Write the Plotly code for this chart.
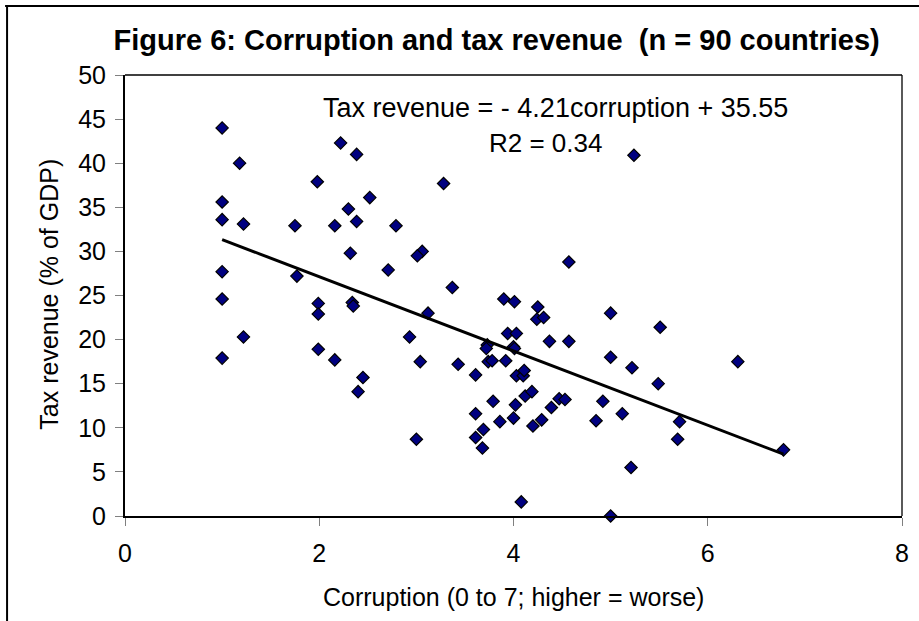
import plotly.graph_objects as go

# Data
corruption = [1.0, 1.18, 2.22, 2.385, 1.98, 1.0, 2.52, 2.30, 1.0, 1.22, 1.75, 2.16, 2.385, 2.79,
              2.32, 2.71, 1.0, 1.77, 1.0, 1.99, 1.99, 2.34, 2.35, 1.22, 1.0, 1.99, 2.16, 2.45, 2.40,
              5.24, 3.28, 3.06, 3.01, 4.57, 3.37, 3.90, 4.01, 4.25, 4.24, 4.31, 5.0, 3.12, 2.93,
              3.94, 4.03, 4.37, 4.57, 3.73, 3.72, 4.0, 4.01, 3.04, 3.43, 3.74, 3.78, 3.92, 3.61,
              4.03, 4.10, 4.11, 5.0, 5.22, 4.12, 4.19, 3.79, 4.02, 3.61, 3.86, 4.0, 4.39, 4.47,
              4.53, 4.20, 4.29, 3.69, 3.61, 3.68, 3.0, 4.92, 4.85, 5.12, 4.08, 5.0, 5.21, 5.51,
              6.31, 5.49, 5.71, 5.69, 6.78]
tax_revenue = [44.0, 40.0, 42.3, 41.0, 37.9, 35.6, 36.1, 34.8, 33.6, 33.1, 32.9, 32.9, 33.4, 32.9,
               29.8, 27.9, 27.7, 27.2, 24.6, 24.1, 22.9, 24.2, 23.8, 20.3, 17.9, 18.9, 17.7, 15.7, 14.1,
               40.9, 37.7, 30.0, 29.5, 28.8, 25.9, 24.6, 24.3, 23.7, 22.3, 22.5, 23.0, 23.0, 20.3,
               20.7, 20.7, 19.8, 19.8, 19.4, 19.0, 19.2, 19.0, 17.5, 17.2, 17.5, 17.6, 17.6, 16.0,
               15.9, 15.9, 16.5, 18.0, 16.8, 13.6, 14.1, 13.0, 12.6, 11.6, 10.7, 11.1, 12.3, 13.3,
               13.2, 10.2, 10.9, 9.8, 8.9, 7.7, 8.7, 13.0, 10.8, 11.6, 1.6, 0.0, 5.5, 21.4,
               17.5, 15.0, 10.7, 8.7, 7.5]
slope = -4.21
intercept = 35.55

x_ticks = [0, 2, 4, 6, 8]
y_ticks = [0, 5, 10, 15, 20, 25, 30, 35, 40, 45, 50]

title_text = "Figure 6: Corruption and tax revenue  (n = 90 countries)"
eq_text = "Tax revenue = - 4.21corruption + 35.55"
r2_text = "R2 = 0.34"
x_title = "Corruption (0 to 7; higher = worse)"
y_title = "Tax revenue (% of GDP)"

FONT = "Liberation Sans, Arial, sans-serif"
W, H = 919, 621
L, R, T, B = 125, 10, 75, 105
PW, PH = W - L - R, H - T - B


def px(x):
    return (x - L) / PW


def py(y):
    return (H - B - y) / PH


fig = go.Figure()
fig.add_trace(go.Scatter(
    x=corruption, y=tax_revenue, mode="markers",
    marker=dict(symbol="diamond", size=9.5, color="#000080",
                line=dict(color="black", width=1.2)),
    showlegend=False, cliponaxis=False))

x_min, x_max = min(corruption), max(corruption)
fig.add_trace(go.Scatter(
    x=[x_min, x_max], y=[intercept + slope * x_min, intercept + slope * x_max],
    mode="lines", line=dict(color="black", width=3), showlegend=False))

axis_common = dict(ticks="outside", ticklen=8, tickwidth=1, tickcolor="#808080",
                   showline=True, linecolor="black", linewidth=2,
                   showgrid=False, zeroline=False,
                   tickfont=dict(family=FONT, size=25, color="black"))

fig.update_layout(
    width=W, height=H,
    margin=dict(l=L, r=R, t=T, b=B),
    paper_bgcolor="white", plot_bgcolor="white",
    font=dict(family=FONT, size=25, color="black"),
    title=dict(text="<b>" + title_text + "</b>", xref="paper", x=px(500), xanchor="center",
               yref="container", y=1 - 40 / H, yanchor="middle",
               font=dict(family=FONT, size=29, color="black")),
    xaxis=dict(range=[0, 8], tickvals=x_ticks, ticklabelstandoff=6, **axis_common),
    yaxis=dict(range=[0, 50], tickvals=y_ticks, ticklabelstandoff=4, **axis_common),
    annotations=[
        dict(text=eq_text, x=px(559), y=py(108), xref="paper", yref="paper",
             showarrow=False, xanchor="center", yanchor="middle", font=dict(size=27)),
        dict(text=r2_text, x=px(549), y=py(143), xref="paper", yref="paper",
             showarrow=False, xanchor="center", yanchor="middle", font=dict(size=26)),
        dict(text=x_title, x=px(517), y=py(597), xref="paper", yref="paper",
             showarrow=False, xanchor="center", yanchor="middle", font=dict(size=25)),
        dict(text=y_title, x=px(48), y=py(294), xref="paper", yref="paper",
             textangle=-90, showarrow=False, xanchor="center", yanchor="middle",
             font=dict(size=25)),
    ],
    shapes=[
        # plot area border top and right
        dict(type="line", xref="paper", yref="paper", x0=0, x1=1, y0=1, y1=1,
             line=dict(color="black", width=1.3)),
        dict(type="line", xref="paper", yref="paper", x0=1, x1=1, y0=0, y1=1,
             line=dict(color="black", width=1.3)),
        # outer chart border (extends beyond the frame at right and bottom)
        dict(type="line", xref="paper", yref="paper",
             x0=px(4), x1=px(W + 20), y0=py(6), y1=py(6),
             line=dict(color="black", width=2)),
        dict(type="line", xref="paper", yref="paper",
             x0=px(6), x1=px(6), y0=py(H + 20), y1=py(6),
             line=dict(color="black", width=2)),
    ],
)

fig.write_html("out.html",
               config={"displayModeBar": False},
               post_script="document.body.style.margin='0';document.body.style.overflow='hidden';")
